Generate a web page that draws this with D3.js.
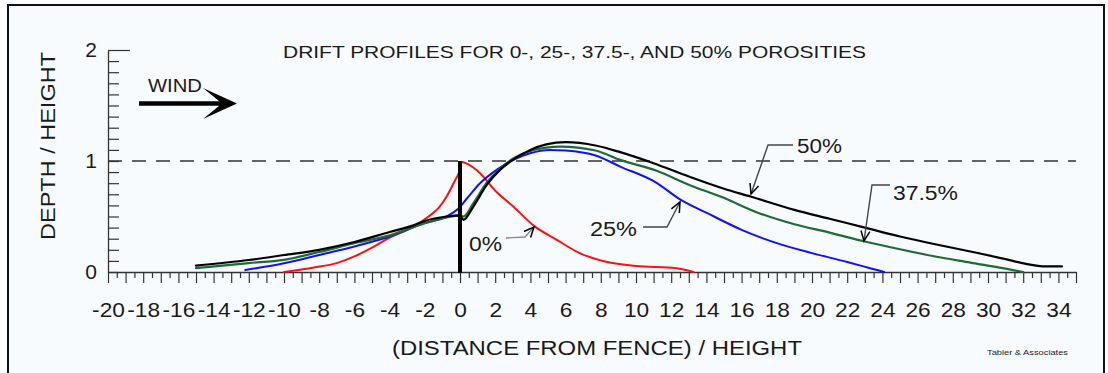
<!DOCTYPE html>
<html>
<head>
<meta charset="utf-8">
<script src="https://cdn.jsdelivr.net/npm/d3@7"></script>
<style>
  html, body { margin: 0; padding: 0; background: #ffffff; }
  svg { display: block; }
  text { font-family: "Liberation Sans", Arial, sans-serif; fill: #1a1a1a; }
</style>
</head>
<body>
<svg id="chart" width="1108" height="373"></svg>
<script>
// ---------------- data ----------------
const xTickLabels = d3.range(-20, 35, 2);          // labelled x ticks
const yTickLabels = [0, 1, 2];                     // labelled y ticks
const seriesNames = ["0%", "25%", "37.5%", "50%"];

const porosity0 = [
  [-10, 0.0], [-8.3, 0.04], [-7, 0.08], [-6, 0.14], [-5, 0.22], [-4, 0.31],
  [-3, 0.38], [-2.65, 0.41], [-1.7, 0.51], [-1.2, 0.58], [-0.76, 0.68],
  [-0.3, 0.82], [-0.05, 0.9], [0.1, 0.99], [0.57, 0.96], [1.14, 0.89],
  [2.08, 0.72], [3.03, 0.59], [4.17, 0.42], [5.5, 0.29], [6.8, 0.17],
  [8.3, 0.093], [9.5, 0.063], [10, 0.054], [12.3, 0.033], [13.26, 0.0]
];
const porosity25 = [
  [-12.2, 0.018], [-10, 0.078], [-8, 0.153], [-6, 0.23], [-4, 0.32],
  [-2, 0.44], [-0.76, 0.5], [-0.1, 0.57], [0.38, 0.66], [1.14, 0.8],
  [2.08, 0.92], [3.03, 1.01], [3.98, 1.07], [5.1, 1.1], [6, 1.095],
  [7.7, 1.05], [9.1, 0.95], [11.1, 0.81], [12.5, 0.655], [14.05, 0.53],
  [16, 0.38], [18, 0.26], [20, 0.17], [22, 0.09], [23.4, 0.03], [24.1, 0.0]
];
const porosity375 = [
  [-15, 0.035], [-12, 0.08], [-10, 0.11], [-8, 0.18], [-6, 0.26], [-4, 0.33],
  [-2, 0.44], [-0.8, 0.49], [0, 0.51], [0.2, 0.5], [0.76, 0.62], [1.5, 0.8],
  [2.27, 0.93], [3.0, 1.02], [4.0, 1.09], [4.9, 1.12], [5.7, 1.13],
  [7.7, 1.095], [9.1, 1.01], [11.1, 0.916], [13.1, 0.78], [14.8, 0.68],
  [17, 0.53], [19, 0.43], [21, 0.355], [23, 0.275], [25, 0.205],
  [27, 0.14], [29, 0.085], [31, 0.03], [32, 0.0]
];
const porosity50 = [
  [-15, 0.057], [-12, 0.108], [-10, 0.153], [-8, 0.2], [-6, 0.27], [-4, 0.36],
  [-2.65, 0.42], [-2, 0.46], [-0.76, 0.5], [0, 0.51], [0.2, 0.47],
  [0.76, 0.59], [1.5, 0.78], [2.27, 0.92], [3.0, 1.01], [4.0, 1.1],
  [4.9, 1.15], [6.0, 1.17], [7.7, 1.14], [9.1, 1.08], [11.0, 0.98],
  [13.0, 0.86], [15.0, 0.75], [16.5, 0.68], [19.0, 0.56], [21.0, 0.48],
  [23.0, 0.40], [25.0, 0.32], [27.0, 0.25], [29.0, 0.185], [31.0, 0.116],
  [32.1, 0.075], [33.3, 0.05], [34.2, 0.05]
];

// ---------------- layout ----------------
const svg = d3.select("#chart");
const x = d3.scaleLinear().domain([-20, 35]).range([108, 1076]);
const y = d3.scaleLinear().domain([0, 2]).range([272, 50]);

// frame + background
svg.append("rect").attr("x", 8).attr("y", 5).attr("width", 1096).attr("height", 400)
  .attr("fill", "#f8fbfd").attr("stroke", "#111").attr("stroke-width", 2);

// dashed reference at depth/height = 1
svg.append("line")
  .attr("x1", x(-20)).attr("x2", x(35)).attr("y1", y(1)).attr("y2", y(1))
  .attr("stroke", "#333").attr("stroke-width", 1.3).attr("stroke-dasharray", "14,10");

// helper: stretch text horizontally by a factor
function stretch(sel, f) {
  sel.each(function () {
    const t = this;
    if (!t.textContent) return;
    const w = t.getComputedTextLength();
    d3.select(t).attr("textLength", w * f).attr("lengthAdjust", "spacingAndGlyphs");
  });
}

// x axis
const xTicks = d3.range(-40, 71).map(i => i / 2);
const xAxis = d3.axisBottom(x).tickValues(xTicks).tickSizeInner(11).tickSizeOuter(0)
  .tickPadding(3)
  .tickFormat(d => (Number.isInteger(d) && xTickLabels.includes(d)) ? String(d) : "");
const gx = svg.append("g").attr("transform", `translate(0,${y(0)})`).call(xAxis);
gx.select(".domain").attr("stroke", "#333").attr("stroke-width", 1.3);
gx.selectAll(".tick line").attr("stroke", "#333").attr("stroke-width", 1.2)
  .attr("y2", d => Number.isInteger(d) ? 11 : 6);
gx.selectAll(".tick text").attr("y", 44.8).attr("dy", 0)
  .style("font-size", "21px").attr("fill", "#1a1a1a");
stretch(gx.selectAll(".tick text"), 1.08);

// y axis (ticks pointing inward)
const yTicks = d3.range(0, 21).map(i => i / 10);
const yAxis = d3.axisLeft(y).tickValues(yTicks).tickSizeInner(-11).tickSizeOuter(0)
  .tickPadding(11)
  .tickFormat(d => yTickLabels.some(v => Math.abs(v - d) < 1e-9) ? String(Math.round(d)) : "");
const gy = svg.append("g").attr("transform", `translate(${x(-20)},0)`).call(yAxis);
gy.select(".domain").attr("stroke", "#333").attr("stroke-width", 1.3);
gy.selectAll(".tick line").attr("stroke", "#333").attr("stroke-width", 1.2)
  .attr("x2", d => Math.abs(d - 2) < 1e-9 ? 22 : 11);
gy.selectAll(".tick text").style("font-size", "21px").attr("fill", "#1a1a1a");

// curves
const line = d3.line().x(d => x(d[0])).y(d => y(d[1])).curve(d3.curveMonotoneX);
const series = [
  { name: seriesNames[0], data: porosity0, color: "#ff1010", w: 2 },
  { name: seriesNames[1], data: porosity25, color: "#1010ff", w: 2 },
  { name: seriesNames[2], data: porosity375, color: "#1f6b35", w: 2.2 },
  { name: seriesNames[3], data: porosity50, color: "#000000", w: 2.2 }
];
svg.append("g").selectAll("path").data(series).join("path")
  .attr("d", d => line(d.data)).attr("fill", "none")
  .attr("stroke", d => d.color).attr("stroke-width", d => d.w)
  .attr("stroke-linejoin", "round").attr("stroke-linecap", "round");

// fence
svg.append("line").attr("x1", x(0)).attr("x2", x(0)).attr("y1", y(1)).attr("y2", y(0) + 1)
  .attr("stroke", "#000").attr("stroke-width", 4);

// title
svg.append("text").attr("x", 283).attr("y", 58)
  .attr("textLength", 583).attr("lengthAdjust", "spacingAndGlyphs")
  .style("font-size", "17px").text("DRIFT PROFILES FOR 0-, 25-, 37.5-, AND 50% POROSITIES");

// wind
svg.append("text").attr("x", 148).attr("y", 92)
  .attr("textLength", 54).attr("lengthAdjust", "spacingAndGlyphs")
  .style("font-size", "18px").text("WIND");
svg.append("line").attr("x1", 139).attr("x2", 226).attr("y1", 103.5).attr("y2", 103.5)
  .attr("stroke", "#000").attr("stroke-width", 4.5);
svg.append("path").attr("d", "M237,103.5 L203,88 L222,103.5 L203,119 Z").attr("fill", "#000");

// axis titles
svg.append("text").attr("transform", "translate(55,146) rotate(-90)")
  .attr("text-anchor", "middle").attr("textLength", 188).attr("lengthAdjust", "spacingAndGlyphs")
  .style("font-size", "20px").text("DEPTH / HEIGHT");
svg.append("text").attr("x", 392).attr("y", 355)
  .attr("textLength", 410).attr("lengthAdjust", "spacingAndGlyphs")
  .style("font-size", "20px").text("(DISTANCE FROM FENCE) / HEIGHT");
svg.append("text").attr("x", 987).attr("y", 355)
  .attr("textLength", 81).attr("lengthAdjust", "spacingAndGlyphs")
  .style("font-size", "8px").text("Tabler & Associates");

// series labels with leaders
const labels = [
  { text: seriesNames[3], tx: 797, ty: 153, tl: 45, pts: [[793, 145], [768, 145], [751, 194]], c: "#444" },
  { text: seriesNames[2], tx: 893, ty: 200, tl: 65, pts: [[890, 185], [872, 185], [864, 241]], c: "#444" },
  { text: seriesNames[1], tx: 590, ty: 236, tl: 47, pts: [[643, 227], [667, 227], [680, 202]], c: "#444" },
  { text: seriesNames[0], tx: 469, ty: 251, tl: 33, pts: [[506, 238], [525, 237], [534, 227]], c: "#888" }
];
const lg = svg.append("g");
labels.forEach(l => {
  lg.append("text").attr("x", l.tx).attr("y", l.ty)
    .attr("textLength", l.tl).attr("lengthAdjust", "spacingAndGlyphs")
    .style("font-size", "20px").text(l.text);
  lg.append("path").attr("d", d3.line()(l.pts)).attr("fill", "none")
    .attr("stroke", l.c).attr("stroke-width", 1.4);
  const p1 = l.pts[l.pts.length - 2], p2 = l.pts[l.pts.length - 1];
  const ang = Math.atan2(p2[1] - p1[1], p2[0] - p1[0]);
  const len = 11, spread = 0.42;
  const a1 = [p2[0] - len * Math.cos(ang - spread), p2[1] - len * Math.sin(ang - spread)];
  const a2 = [p2[0] - len * Math.cos(ang + spread), p2[1] - len * Math.sin(ang + spread)];
  lg.append("path").attr("d", d3.line()([a1, p2, a2])).attr("fill", "none")
    .attr("stroke", "#000").attr("stroke-width", 1.5);
});
</script>
</body>
</html>
